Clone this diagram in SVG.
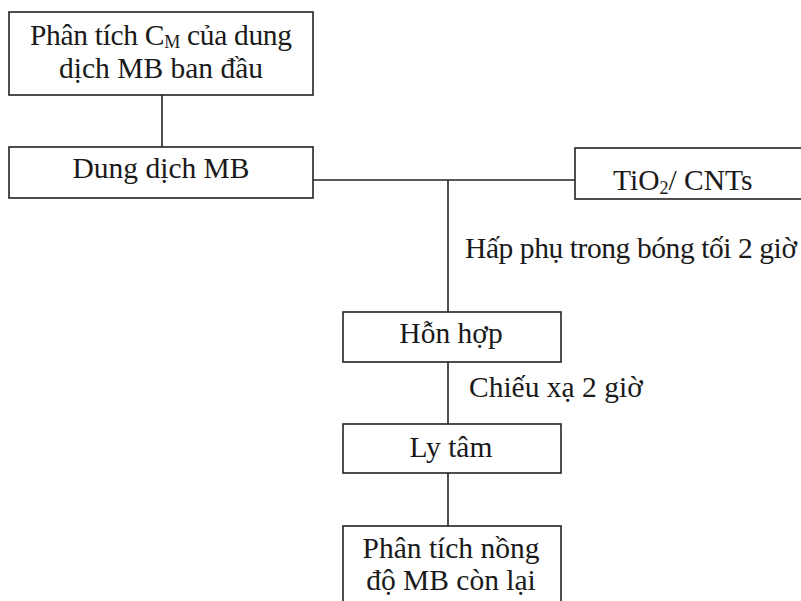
<svg xmlns="http://www.w3.org/2000/svg" width="801" height="601" viewBox="0 0 801 601">
<style>
.box{fill:#fff;stroke:#222;stroke-width:1.6}
.ln{stroke:#222;stroke-width:1.6;fill:none}
text{font-family:"Liberation Serif","Times New Roman",serif;font-size:29.5px;fill:#1a1a1a}
.c{text-anchor:middle}
.sub{font-size:18px}
</style>
<rect width="801" height="601" fill="#fff"/>
<g id="connectors">
<line class="ln" x1="162" y1="95" x2="162" y2="147"/>
<line class="ln" x1="313" y1="180" x2="575" y2="180"/>
<line class="ln" x1="448" y1="180" x2="448" y2="312"/>
<line class="ln" x1="448" y1="362" x2="448" y2="424"/>
<line class="ln" x1="448" y1="473" x2="448" y2="526"/>
<text x="465" y="258" textLength="332" lengthAdjust="spacing">Hấp phụ trong bóng tối 2 giờ</text>
<text x="469" y="397">Chiếu xạ 2 giờ</text>
</g>
<g id="node-phantich-cm">
<rect class="box" x="9" y="12" width="304" height="83"/>
<text class="c" x="161" y="45" textLength="262" lengthAdjust="spacing">Phân tích C<tspan class="sub" dy="3">M</tspan><tspan dy="-3"> của dung</tspan></text>
<text class="c" x="161" y="78">dịch MB ban đầu</text>
</g>
<g id="node-dungdich-mb">
<rect class="box" x="9" y="147" width="304" height="51"/>
<text class="c" x="161" y="178">Dung dịch MB</text>
</g>
<g id="node-tio2-cnts">
<rect class="box" x="575" y="148" width="240" height="51"/>
<text x="613" y="190">TiO<tspan class="sub" dy="4">2</tspan><tspan dy="-4">/ CNTs</tspan></text>
</g>
<g id="node-honhop">
<rect class="box" x="343" y="312" width="218" height="50"/>
<text class="c" x="451" y="343">Hỗn hợp</text>
</g>
<g id="node-lytam">
<rect class="box" x="343" y="424" width="218" height="49"/>
<text class="c" x="451" y="457">Ly tâm</text>
</g>
<g id="node-phantich-nongdo">
<rect class="box" x="343" y="526" width="218" height="90"/>
<text class="c" x="451" y="558">Phân tích nồng</text>
<text class="c" x="451" y="590">độ MB còn lại</text>
</g>
</svg>
